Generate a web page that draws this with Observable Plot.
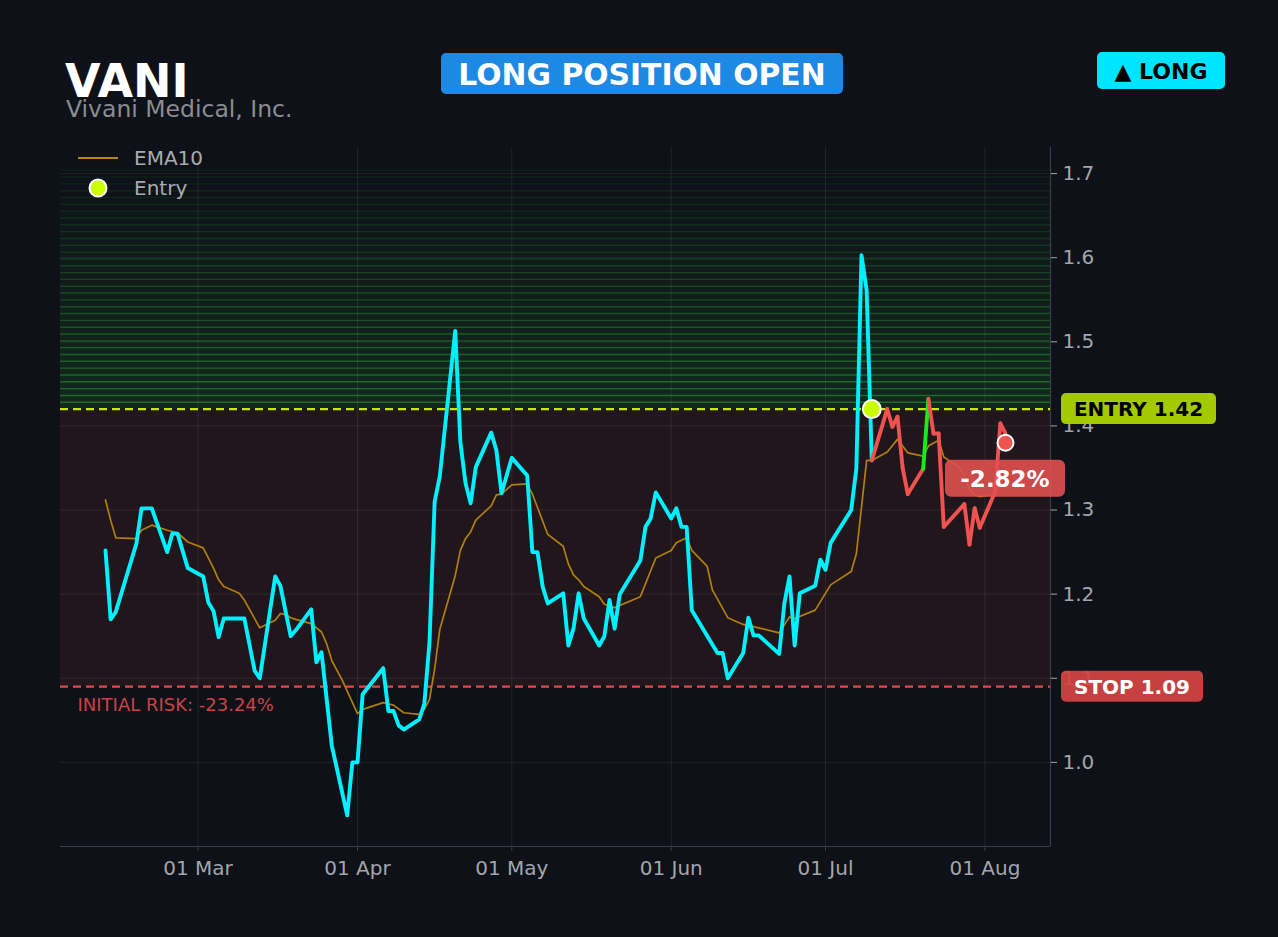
<!DOCTYPE html>
<html>
<head>
<meta charset="utf-8">
<script src="https://cdn.jsdelivr.net/npm/d3@7"></script>
<script src="https://cdn.jsdelivr.net/npm/@observablehq/plot@0.6"></script>
<style>
  html, body { margin: 0; padding: 0; background: #0e1118; }
  body { width: 1278px; height: 937px; overflow: hidden; font-family: "DejaVu Sans", sans-serif; }
  #header, #chart { display: block; }
</style>
</head>
<body>
<div id="header"></div>
<div id="chart"></div>
<script>
// ---------------- data ----------------
const ticker = "VANI";
const companyName = "Vivani Medical, Inc.";
const statusText = "LONG POSITION OPEN";
const sideText = "\u25B2 LONG";

const entryPrice = 1.42;
const stopPrice = 1.09;
const targetPrice = 1.704;
const entryDate = "2025-07-10";
const exitDate = "2025-08-05";
const exitPrice = 1.38;

const closeDates = [
  "2025-02-11","2025-02-12","2025-02-13","2025-02-17","2025-02-18","2025-02-20","2025-02-23","2025-02-24","2025-02-25","2025-02-27",
  "2025-03-02","2025-03-03","2025-03-04","2025-03-05","2025-03-06","2025-03-10","2025-03-12","2025-03-13","2025-03-16","2025-03-17",
  "2025-03-19","2025-03-20","2025-03-23","2025-03-24","2025-03-25","2025-03-27","2025-03-30","2025-03-31","2025-04-01","2025-04-02",
  "2025-04-06","2025-04-07","2025-04-08","2025-04-09","2025-04-10","2025-04-13","2025-04-14","2025-04-15","2025-04-16","2025-04-17",
  "2025-04-20","2025-04-21","2025-04-22","2025-04-23","2025-04-24","2025-04-27","2025-04-28","2025-04-29","2025-05-01","2025-05-04",
  "2025-05-05","2025-05-06","2025-05-07","2025-05-08","2025-05-11","2025-05-12","2025-05-13","2025-05-14","2025-05-15","2025-05-18",
  "2025-05-19","2025-05-20","2025-05-21","2025-05-22","2025-05-26","2025-05-27","2025-05-28","2025-05-29","2025-06-01","2025-06-02",
  "2025-06-03","2025-06-04","2025-06-05","2025-06-10","2025-06-11","2025-06-12","2025-06-15","2025-06-16","2025-06-17","2025-06-18",
  "2025-06-22","2025-06-23","2025-06-24","2025-06-25","2025-06-26","2025-06-29","2025-06-30","2025-07-01","2025-07-02","2025-07-06",
  "2025-07-07","2025-07-08","2025-07-09","2025-07-10","2025-07-13","2025-07-14","2025-07-15","2025-07-16","2025-07-17","2025-07-20",
  "2025-07-21","2025-07-22","2025-07-23","2025-07-24","2025-07-28","2025-07-29","2025-07-30","2025-07-31","2025-08-03","2025-08-04",
  "2025-08-05"
];
const closeValues = [
  1.252,1.170,1.179,1.260,1.302,1.302,1.250,1.272,1.272,1.231,
  1.221,1.190,1.180,1.149,1.171,1.171,1.109,1.100,1.221,1.210,
  1.150,1.157,1.182,1.119,1.131,1.020,0.937,1.000,1.000,1.081,
  1.112,1.061,1.061,1.044,1.039,1.051,1.070,1.143,1.310,1.340,
  1.513,1.381,1.332,1.308,1.351,1.392,1.371,1.320,1.362,1.341,
  1.250,1.250,1.209,1.189,1.201,1.139,1.159,1.201,1.171,1.139,
  1.150,1.193,1.159,1.200,1.240,1.280,1.290,1.321,1.290,1.302,
  1.280,1.280,1.181,1.130,1.130,1.100,1.130,1.172,1.151,1.151,
  1.129,1.189,1.221,1.139,1.201,1.210,1.241,1.229,1.261,1.300,
  1.349,1.603,1.561,1.359,1.420,1.399,1.411,1.350,1.319,1.349,
  1.432,1.391,1.391,1.280,1.307,1.259,1.302,1.279,1.322,1.403,
  1.391
];

const emaDates = [
  "2025-02-11","2025-02-12","2025-02-13","2025-02-17","2025-02-18","2025-02-20","2025-02-23","2025-02-25","2025-02-27","2025-03-02",
  "2025-03-04","2025-03-05","2025-03-06","2025-03-09","2025-03-10","2025-03-13","2025-03-16","2025-03-17","2025-03-18","2025-03-19",
  "2025-03-20","2025-03-23","2025-03-25","2025-03-26","2025-03-27","2025-03-29","2025-04-01","2025-04-02","2025-04-06","2025-04-08",
  "2025-04-10","2025-04-13","2025-04-14","2025-04-15","2025-04-16","2025-04-17","2025-04-20","2025-04-21","2025-04-22","2025-04-23",
  "2025-04-24","2025-04-27","2025-04-28","2025-04-29","2025-05-01","2025-05-04","2025-05-05","2025-05-06","2025-05-08","2025-05-11",
  "2025-05-12","2025-05-13","2025-05-14","2025-05-15","2025-05-18","2025-05-19","2025-05-21","2025-05-26","2025-05-29","2025-06-01",
  "2025-06-02","2025-06-04","2025-06-05","2025-06-08","2025-06-09","2025-06-12","2025-06-15","2025-06-18","2025-06-22","2025-06-24",
  "2025-06-25","2025-06-29","2025-07-02","2025-07-06","2025-07-07","2025-07-09","2025-07-10","2025-07-13","2025-07-15","2025-07-17",
  "2025-07-20","2025-07-21","2025-07-23","2025-07-24","2025-07-27","2025-07-28","2025-07-29","2025-07-30","2025-07-31","2025-08-03",
  "2025-08-04","2025-08-05"
];
const emaValues = [
  1.312,1.288,1.267,1.266,1.276,1.282,1.276,1.273,1.262,1.255,
  1.231,1.217,1.209,1.201,1.193,1.160,1.169,1.177,1.176,1.172,
  1.170,1.165,1.155,1.141,1.121,1.098,1.058,1.063,1.071,1.068,
  1.059,1.057,1.063,1.075,1.111,1.158,1.222,1.252,1.266,1.274,
  1.288,1.305,1.318,1.319,1.330,1.331,1.319,1.303,1.271,1.257,
  1.236,1.223,1.217,1.209,1.197,1.188,1.184,1.197,1.243,1.252,
  1.261,1.267,1.252,1.233,1.205,1.172,1.164,1.160,1.154,1.173,
  1.171,1.181,1.211,1.227,1.248,1.359,1.359,1.369,1.384,1.368,
  1.364,1.376,1.383,1.363,1.351,1.340,1.325,1.318,1.316,1.319,
  1.335,1.345
];

const xTickDates = ["2025-03-01","2025-04-01","2025-05-01","2025-06-01","2025-07-01","2025-08-01"];
const yTickValues = [1.0, 1.1, 1.2, 1.3, 1.4, 1.5, 1.6, 1.7];

// ---------------- build ----------------
const parse = d3.utcParse("%Y-%m-%d");
const closes = closeDates.map((d, i) => ({date: parse(d), close: closeValues[i]}));
const ema = emaDates.map((d, i) => ({date: parse(d), ema: emaValues[i]}));
const xTicks = xTickDates.map(parse);
const tEntry = parse(entryDate), tExit = parse(exitDate);

const pre = closes.filter(d => d.date <= tEntry);
const post = closes.filter(d => d.date >= tEntry);
const segs = d3.pairs(post).map(([a, b]) => ({a, b, color: b.close > entryPrice ? "#14ee14" : "#ef5350"}));

const x0 = new Date(Date.UTC(2025, 1, 2, 6));
const x1 = new Date(Date.UTC(2025, 7, 13, 18));

const N = 35;
const step = (targetPrice - entryPrice) / N;
const bands = d3.range(N).map(i => ({lo: entryPrice + i * step, hi: entryPrice + (i + 1) * step, t: 1 - i / N}));
const bandLines = d3.range(1, N + 1).map(i => ({y: entryPrice + i * step, t: 1 - (i - 0.5) / N}));

const hyphenPct = d3.formatLocale({decimal: ".", thousands: ",", grouping: [3], currency: ["$", ""], minus: "-"}).format(".2%");
const riskText = "INITIAL RISK: " + hyphenPct((stopPrice - entryPrice) / entryPrice);
const pnlText = hyphenPct((exitPrice - entryPrice) / entryPrice);

const axisColor = "#a3a6ab";
const FONT = "DejaVu Sans, sans-serif";

const chart = Plot.plot({
  width: 1278,
  height: 807,
  marginLeft: 60,
  marginRight: 228,
  marginTop: 17,
  marginBottom: 91,
  style: {background: "transparent", fontFamily: FONT, fontSize: "20px", color: axisColor, overflow: "visible"},
  x: {type: "utc", domain: [x0, x1]},
  y: {domain: [0.9, 1.731]},
  color: {type: "identity"},
  marks: [
    Plot.rect([0], {y1: stopPrice, y2: entryPrice, fill: "#ef5350", fillOpacity: 0.085}),
    Plot.rect(bands, {y1: "lo", y2: "hi", fill: "#2ecc40", fillOpacity: d => 0.13 * d.t}),
    Plot.ruleY(bandLines, {y: "y", stroke: "#2ecc40", strokeOpacity: d => 0.06 + 0.38 * d.t, strokeWidth: 1.4}),
    Plot.gridX(xTicks, {stroke: "#ffffff", strokeOpacity: 0.08}),
    Plot.gridY(yTickValues, {stroke: "#ffffff", strokeOpacity: 0.08}),
    Plot.ruleX([x1], {stroke: "#3b3e46", strokeWidth: 1.2}),
    Plot.ruleY([0.9], {stroke: "#3b3e46", strokeWidth: 1.2}),
    Plot.ruleY([entryPrice], {stroke: "#c8e600", strokeWidth: 2.2, strokeDasharray: "8,5"}),
    Plot.ruleY([stopPrice], {stroke: "#e04a4a", strokeWidth: 2.2, strokeDasharray: "8,5"}),
    Plot.line(ema, {x: "date", y: "ema", stroke: "#b8860b", strokeWidth: 1.7, strokeOpacity: 0.95}),
    Plot.line(pre, {x: "date", y: "close", stroke: "#00f0ff", strokeWidth: 3.9}),
    Plot.link(segs, {x1: d => d.a.date, y1: d => d.a.close, x2: d => d.b.date, y2: d => d.b.close, stroke: "color", strokeWidth: 3.9, strokeLinecap: "round"}),
    Plot.dot([{date: tEntry, v: entryPrice}], {x: "date", y: "v", r: 9, fill: "#ccff00", stroke: "#ffffff", strokeWidth: 2}),
    Plot.dot([{date: tExit, v: exitPrice}], {x: "date", y: "v", r: 8, fill: "#ef5350", stroke: "#ffffff", strokeWidth: 2}),
    Plot.text([riskText], {frameAnchor: "left", y: stopPrice, text: d => d, dx: 17, dy: 19, textAnchor: "start", fill: "#c84343", fontSize: 18}),
    Plot.axisX(xTicks, {tickFormat: d3.utcFormat("%d %b"), tickSize: 5, tickPadding: 9, stroke: "#3b3e46", fill: axisColor, fontSize: 20, label: null}),
    Plot.axisY(yTickValues, {anchor: "right", tickFormat: d3.format(".1f"), tickSize: 6, tickPadding: 6, stroke: axisColor, fill: axisColor, fontSize: 20, label: null})
  ]
});

document.getElementById("chart").appendChild(chart);

// ---------- overlays drawn with the chart's own scales ----------
const sx = chart.scale("x"), sy = chart.scale("y");
const svg = d3.select(chart);

// legend (top-left inside the frame)
const lg = svg.append("g").attr("font-family", FONT).attr("font-size", 20).attr("fill", "#a9abb0").attr("text-anchor", "start");
lg.append("line").attr("x1", 78).attr("x2", 118).attr("y1", 28).attr("y2", 28).attr("stroke", "#b8860b").attr("stroke-width", 1.8);
lg.append("text").attr("x", 134).attr("y", 35).attr("text-anchor", "start").text("EMA10");
lg.append("circle").attr("cx", 98).attr("cy", 58).attr("r", 8.5).attr("fill", "#ccff00").attr("stroke", "#fff").attr("stroke-width", 2);
lg.append("text").attr("x", 134).attr("y", 65).attr("text-anchor", "start").text("Entry");

// right-hand price tags
function tag(value, label, fill, textFill, width, opacity) {
  const y = sy.apply(value);
  const g = svg.append("g");
  g.append("rect").attr("x", 1061).attr("y", y - 15.5).attr("width", width).attr("height", 31).attr("rx", 5)
    .attr("fill", fill).attr("fill-opacity", opacity);
  g.append("text").attr("x", 1061 + width / 2).attr("y", y + 7.5).attr("text-anchor", "middle")
    .attr("font-family", FONT).attr("font-weight", "bold").attr("font-size", 20).attr("fill", textFill).text(label);
}
tag(entryPrice, "ENTRY " + entryPrice.toFixed(2), "#a8d000", "#000000", 155, 0.97);
tag(stopPrice, "STOP " + stopPrice.toFixed(2), "#d44444", "#ffffff", 142, 0.93);

// P&L badge under the exit marker
{
  const cx = sx.apply(tExit), cy = sy.apply(exitPrice) + 36;
  const g = svg.append("g");
  g.append("rect").attr("x", cx - 60).attr("y", cy - 18.5).attr("width", 120).attr("height", 37).attr("rx", 6)
    .attr("fill", "#e05050").attr("fill-opacity", 0.9);
  g.append("text").attr("x", cx).attr("y", cy + 8.5).attr("text-anchor", "middle").attr("font-family", FONT)
    .attr("font-weight", "bold").attr("font-size", 23).attr("fill", "#ffffff").text(pnlText);
}

// ---------- header ----------
const hd = d3.select("#header").append("svg").attr("width", 1278).attr("height", 130).style("display", "block")
  .attr("font-family", FONT);
hd.append("text").attr("x", 65).attr("y", 97).attr("font-size", 46).attr("font-weight", "bold").attr("fill", "#ffffff").text(ticker);
hd.append("text").attr("x", 66).attr("y", 117).attr("font-size", 23.5).attr("fill", "#8a8d92").text(companyName);
hd.append("rect").attr("x", 441).attr("y", 53).attr("width", 402).attr("height", 41).attr("rx", 5).attr("fill", "#1e88e5");
hd.append("text").attr("x", 642).attr("y", 84.5).attr("text-anchor", "middle").attr("font-size", 29.8).attr("font-weight", "bold").attr("fill", "#ffffff").text(statusText);
hd.append("rect").attr("x", 1097).attr("y", 52).attr("width", 128).attr("height", 37).attr("rx", 5).attr("fill", "#00e5ff");
hd.append("text").attr("x", 1161).attr("y", 79).attr("text-anchor", "middle").attr("font-size", 22).attr("font-weight", "bold").attr("fill", "#000000").text(sideText);
</script>
</body>
</html>
